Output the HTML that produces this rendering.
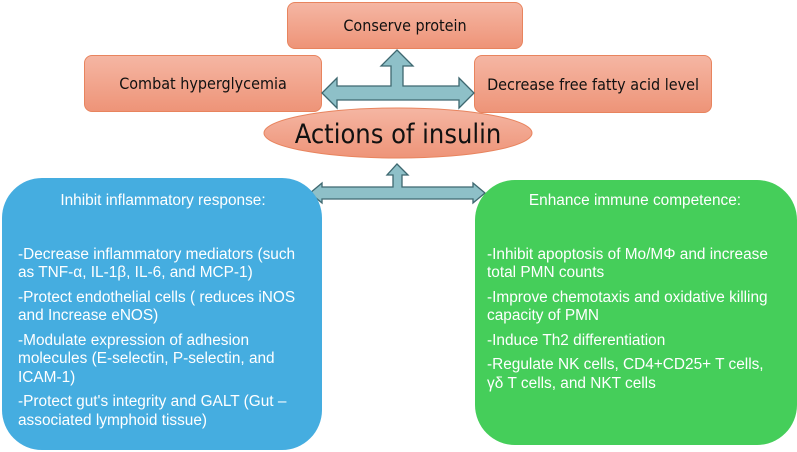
<!DOCTYPE html>
<html><head><meta charset="utf-8"><style>
body{margin:0;width:797px;height:452px;background:#fff;position:relative;overflow:hidden;font-family:"Liberation Sans",sans-serif}
.box{position:absolute;box-sizing:border-box;background:linear-gradient(#f5b6a3,#ee9478);border:1px solid #e8845e;border-radius:8px;display:flex;align-items:center;justify-content:center;font-size:16px;color:#111;font-family:"DejaVu Sans Condensed","Liberation Sans Narrow","Liberation Sans",sans-serif;}
.big{position:absolute;box-sizing:border-box;color:#fff;font-size:15.4px;line-height:18.5px}
.big .t{text-align:center;font-size:15.4px;margin-bottom:35px}
.big p{margin:0 0 6px 0}
</style></head><body>
<div class="box" style="left:287px;top:2px;width:236px;height:47px">Conserve protein</div>
<div class="box" style="left:84px;top:55px;width:238px;height:57px">Combat hyperglycemia</div>
<div class="box" style="left:474px;top:55px;width:238px;height:58px">Decrease free fatty acid level</div>
<svg width="797" height="452" style="position:absolute;left:0;top:0">
<defs><linearGradient id="g" x1="0" y1="0" x2="0" y2="1"><stop offset="0" stop-color="#f5b6a3"/><stop offset="1" stop-color="#ee9478"/></linearGradient></defs>
<polygon points="397,50 413,66 403,66 403,86 459,86 459,78 474,93 459,108 459,100 337,100 337,108 322,93 337,78 337,86 391,86 391,66 381,66" fill="#8ec0c8" stroke="#3e6870" stroke-width="1.3"/>
<ellipse cx="398" cy="133" rx="134" ry="25" fill="url(#g)" stroke="#e8845e"/>
<text x="398" y="143" text-anchor="middle" font-family="DejaVu Sans Condensed, Liberation Sans, sans-serif" font-size="27" fill="#111">Actions of insulin</text>
<polygon points="397,164 408,175 402,175 402,187 473,187 473,183 485,193 473,203 473,199 322,199 322,203 310,193 322,183 322,187 393,187 393,175 387,175" fill="#8ec0c8" stroke="#3e6870" stroke-width="1.3"/>
</svg>
<div class="big" style="left:2px;top:178px;width:320px;height:272px;background:#45ade0;border-radius:40px;padding:14px 14px 0 16px">
<div class="t">Inhibit inflammatory response:</div>
<p>-Decrease inflammatory mediators (such as TNF-α, IL-1β, IL-6, and MCP-1)</p>
<p>-Protect endothelial cells ( reduces iNOS and Increase eNOS)</p>
<p>-Modulate expression of adhesion molecules (E-selectin, P-selectin, and ICAM-1)</p>
<p>-Protect gut's integrity and GALT (Gut – associated lymphoid tissue)</p>
</div>
<div class="big" style="left:475px;top:180px;width:322px;height:265px;background:#45ce5a;border-radius:40px;padding:12px 14px 0 12px">
<div class="t">Enhance immune competence:</div>
<p>-Inhibit apoptosis of Mo/MΦ and increase total PMN counts</p>
<p>-Improve chemotaxis and oxidative killing capacity of PMN</p>
<p>-Induce Th2 differentiation</p>
<p>-Regulate NK cells, CD4+CD25+ T cells, γδ T cells, and NKT cells</p>
</div>
</body></html>
